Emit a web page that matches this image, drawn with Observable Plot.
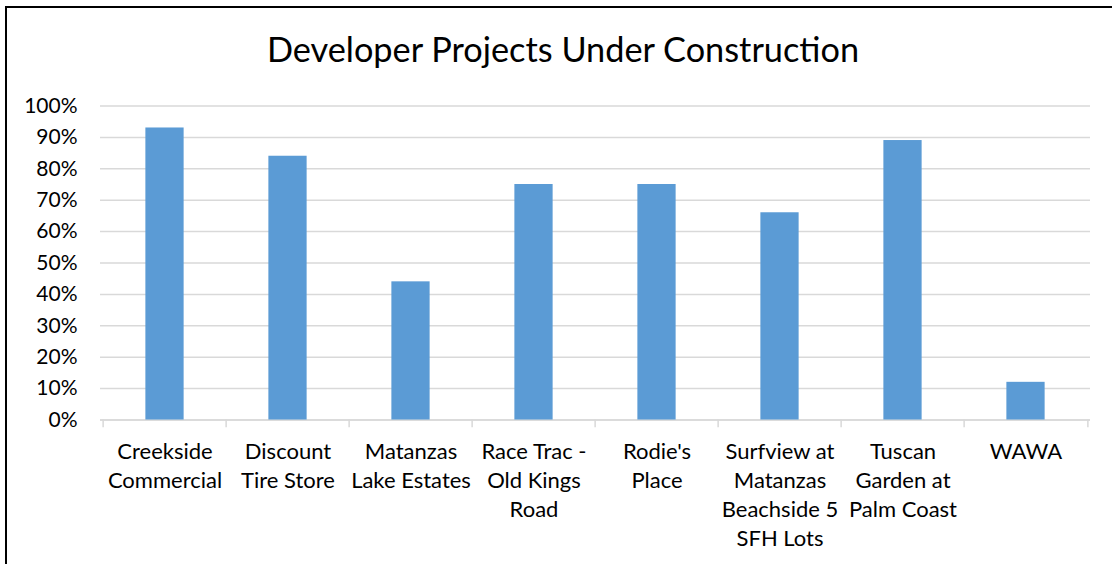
<!DOCTYPE html>
<html>
<head>
<meta charset="utf-8">
<script src="https://cdn.jsdelivr.net/npm/d3@7"></script>
<script src="https://cdn.jsdelivr.net/npm/@observablehq/plot@0.6"></script>
<style>
  html, body { margin: 0; padding: 0; background: #fff; }
  #wrap { position: relative; width: 1112px; height: 564px; overflow: hidden; background: #fff; }
  #frame { position: absolute; left: 5px; top: 6px; width: 1300px; height: 800px; border: 2px solid #000; box-sizing: border-box; pointer-events: none; }
  #title { position: relative; height: 84px; box-sizing: border-box; padding-top: 32px; padding-left: 14px; text-align: center;
           font-family: Lato, "Open Sans", sans-serif; font-size: 34.3px; line-height: 1; color: #000; white-space: nowrap; }
  #chart svg { display: block; }
</style>
</head>
<body>
<div id="wrap">
  <div id="frame"></div>
  <div id="title">Developer Projects Under Construction</div>
  <div id="chart"></div>
</div>
<script>
const categories = [
  "Creekside Commercial",
  "Discount Tire Store",
  "Matanzas Lake Estates",
  "Race Trac - Old Kings Road",
  "Rodie's Place",
  "Surfview at Matanzas Beachside 5 SFH Lots",
  "Tuscan Garden at Palm Coast",
  "WAWA"
];
const categoryLabels = [
  "Creekside\nCommercial",
  "Discount\nTire Store",
  "Matanzas\nLake Estates",
  "Race Trac -\nOld Kings\nRoad",
  "Rodie's\nPlace",
  "Surfview at\nMatanzas\nBeachside 5\nSFH Lots",
  "Tuscan\nGarden at\nPalm Coast",
  "WAWA"
];
const values = [0.93, 0.84, 0.44, 0.75, 0.75, 0.66, 0.89, 0.12];
const yTicks = [0, 0.1, 0.2, 0.3, 0.4, 0.5, 0.6, 0.7, 0.8, 0.9, 1.0];
const yTickLabels = ["0%", "10%", "20%", "30%", "40%", "50%", "60%", "70%", "80%", "90%", "100%"];

const data = categories.map((c, i) => ({name: c, value: values[i]}));
const labelOf = new Map(categories.map((c, i) => [c, categoryLabels[i]]));
const yLabelOf = new Map(yTicks.map((t, i) => [t, yTickLabels[i]]));

const W = 1112, H = 480;
const mL = 100, mR = 22, mT = 21.5, mB = 144.5;
const step = (W - mL - mR) / categories.length;
const barW = 39;
const inset = (step - barW) / 2;
const grid = "#d9d9d9";

const chart = Plot.plot({
  width: W,
  height: H,
  marginLeft: mL,
  marginRight: mR,
  marginTop: mT,
  marginBottom: mB,
  style: {fontFamily: "Lato, 'Open Sans', sans-serif", color: "#000", background: "#fff", overflow: "visible"},
  x: {domain: categories, padding: 0, label: null},
  y: {domain: [0, 1], label: null},
  marks: [
    Plot.gridY(yTicks, {stroke: grid, strokeOpacity: 1, strokeWidth: 1.5}),
    Plot.ruleY([0], {stroke: grid, strokeWidth: 1.5}),
    Plot.ruleX(categories, {x: d => d, y1: 0, y2: -0.025, dx: -step / 2, stroke: grid, strokeWidth: 1.5}),
    Plot.ruleX([categories[categories.length - 1]], {x: d => d, y1: 0, y2: -0.025, dx: step / 2, stroke: grid, strokeWidth: 1.5}),
    Plot.barY(data, {x: "name", y: "value", fill: "#5b9bd5", insetLeft: inset, insetRight: inset}),
    Plot.axisY(yTicks, {tickSize: 0, tickPadding: 23, tickFormat: t => yLabelOf.get(t), fontSize: 21, fill: "#000", label: null}),
    Plot.axisX({tickSize: 0, tickPadding: 18, tickFormat: c => labelOf.get(c), fontSize: 22, lineHeight: 1.32, fill: "#000", label: null})
  ]
});
document.getElementById("chart").appendChild(chart);
</script>
</body>
</html>
